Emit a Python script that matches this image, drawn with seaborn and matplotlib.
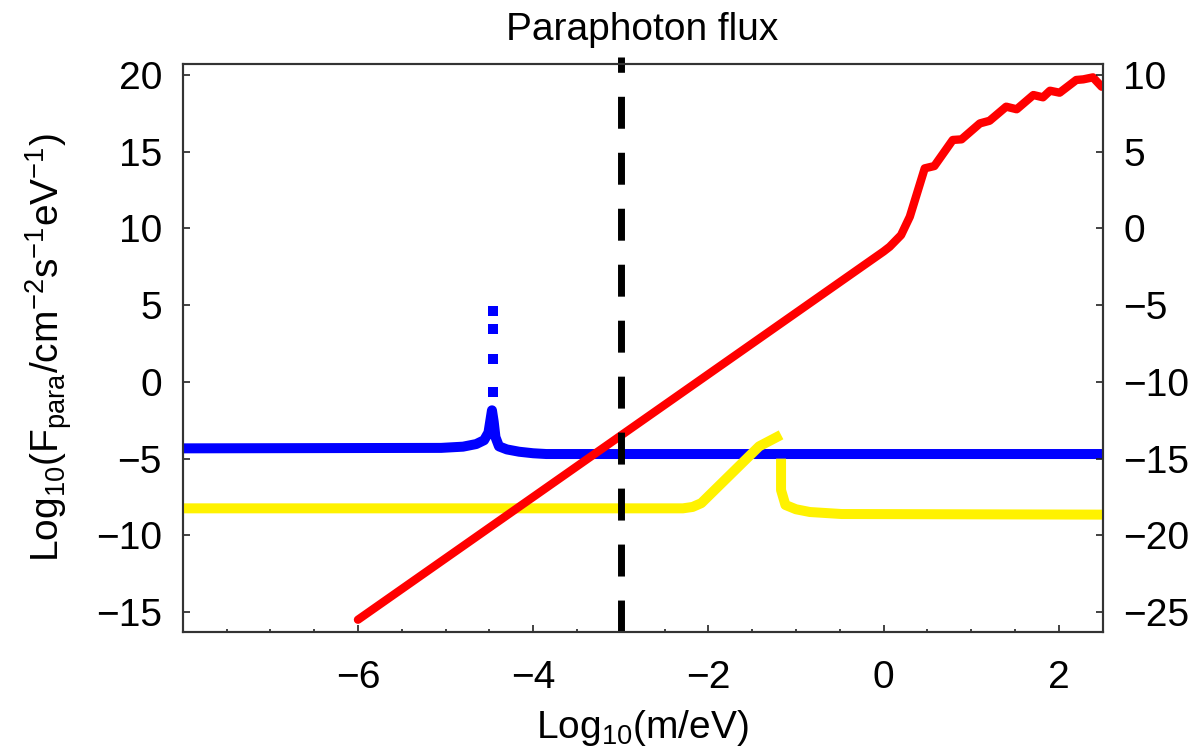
import numpy as np
import pandas as pd
import matplotlib
matplotlib.use("Agg")
import matplotlib.pyplot as plt
import seaborn as sns

# --- curve samples (log10 m/eV  vs  log10 flux) ---
red_x = [-6.0, 0.0, 0.07, 0.20, 0.30, 0.47, 0.58, 0.79, 0.89, 1.10, 1.21,
         1.40, 1.52, 1.71, 1.82, 1.90, 2.01, 2.20, 2.28, 2.39, 2.49]
red_y = [-15.5, 8.5, 8.81, 9.57, 10.77, 13.92, 14.07, 15.77, 15.81, 16.85, 17.02,
         17.94, 17.77, 18.70, 18.55, 18.98, 18.85, 19.68, 19.72, 19.85, 19.24]

blue_x = [-8.0, -5.05, -4.80, -4.65, -4.56, -4.51, -4.47, -4.45, -4.43,
          -4.39, -4.30, -4.16, -4.00, -3.85, 2.5]
blue_y = [-4.33, -4.30, -4.22, -4.05, -3.80, -3.30, -1.85, -2.60, -3.60,
          -4.20, -4.40, -4.55, -4.65, -4.70, -4.70]
blue_peak_x = [-4.46, -4.46, -4.46, -4.46]
blue_peak_y = [-0.64, 1.47, 3.43, 4.65]

yellow_rise_x = [-8.0, -2.29, -2.18, -2.08, -1.42, -1.17]
yellow_rise_y = [-8.24, -8.24, -8.15, -7.90, -4.20, -3.45]
yellow_fall_x = [-1.17, -1.17, -1.12, -1.00, -0.84, -0.48, 2.5]
yellow_fall_y = [-5.0, -7.05, -8.02, -8.30, -8.48, -8.61, -8.65]

cut_x = -3.0

x_ticks = [-6, -4, -2, 0, 2]
y_ticks_left = [20, 15, 10, 5, 0, -5, -10, -15]
y_ticks_right = [10, 5, 0, -5, -10, -15, -20, -25]
right_offset = -10

x_lim = (-8.0, 2.5)
y_lim = (-16.3, 20.72)

sns.set_theme(style="ticks")
plt.rcParams["font.family"] = ["Liberation Sans", "DejaVu Sans"]
plt.rcParams["mathtext.fontset"] = "custom"
plt.rcParams["mathtext.rm"] = "Liberation Sans"
plt.rcParams["mathtext.it"] = "Liberation Sans:italic"
plt.rcParams["mathtext.sf"] = "Liberation Sans"
plt.rcParams["text.color"] = "black"
plt.rcParams["axes.labelcolor"] = "black"

FS = 28
fig = plt.figure(figsize=(12.03, 7.54), dpi=100)
ax = fig.add_axes([0.1519, 0.1618, 0.9165 - 0.1519, 0.9151 - 0.1618])

blue_df = pd.DataFrame({"x": blue_x, "y": blue_y})
sns.lineplot(data=blue_df, x="x", y="y", ax=ax, color="#0000ff", lw=7.2,
             estimator=None, sort=False, solid_capstyle="butt", zorder=2)
sns.scatterplot(x=blue_peak_x, y=blue_peak_y, ax=ax, color="#0000ff", marker="s",
                s=52, linewidth=0, zorder=2)

for xs, ys in [(yellow_rise_x, yellow_rise_y), (yellow_fall_x, yellow_fall_y)]:
    sns.lineplot(x=xs, y=ys, ax=ax, color="#fff200", lw=7.2, estimator=None,
                 sort=False, solid_capstyle="butt", zorder=3)

sns.lineplot(x=red_x, y=red_y, ax=ax, color="#ff0000", lw=6.0, estimator=None,
             sort=False, solid_capstyle="round", solid_joinstyle="round", zorder=4)

# vertical dashed marker, drawn from the bottom edge upward
ax.plot([cut_x, cut_x], [y_lim[0], 21.2], color="black", lw=5.0,
        dashes=(4.6, 3.46), dash_capstyle="butt", zorder=5, clip_on=False)

ax.set_xlim(*x_lim)
ax.set_ylim(*y_lim)
ax.set_xticks(x_ticks)
ax.set_xticks(np.arange(-7.5, 2.51, 0.5), minor=True)
ax.set_yticks(y_ticks_left)
ax.set_xticklabels([f"{t}".replace("-", "\u2212") for t in x_ticks])
ax.set_yticklabels([f"{t}".replace("-", "\u2212") for t in y_ticks_left])

ax.tick_params(axis="x", which="major", direction="in", length=5, width=1.2,
               labelsize=FS, pad=20, colors="#222222", labelcolor="black")
ax.tick_params(axis="x", which="minor", direction="in", length=2.5, width=1.2,
               colors="#222222")
ax.tick_params(axis="y", which="major", direction="in", length=5, width=1.2,
               labelsize=FS, pad=15, colors="#222222", labelcolor="black")

for sp in ax.spines.values():
    sp.set_linewidth(1.5)
    sp.set_color("#333333")
    sp.set_visible(True)

ax2 = ax.twinx()
ax2.set_ylim(y_lim[0] + right_offset, y_lim[1] + right_offset)
ax2.set_yticks(y_ticks_right)
ax2.set_yticklabels([f"{t}".replace("-", "\u2212") for t in y_ticks_right])
ax2.tick_params(axis="y", which="major", direction="in", length=5, width=1.2,
                labelsize=FS, pad=15, colors="#222222", labelcolor="black")
for sp in ax2.spines.values():
    sp.set_linewidth(1.5)
    sp.set_color("#333333")

ax.set_xlabel(r"Log$_{10}$(m/eV)", fontsize=FS, labelpad=9, color="black")
ax.set_ylabel(r"Log$_{10}$(F$_{\mathrm{para}}$/cm$^{-2}$s$^{-1}$eV$^{-1}$)",
              fontsize=FS, labelpad=16, color="black")
ax.set_title("Paraphoton flux", fontsize=FS, pad=17, color="black")

fig.savefig("out.png", dpi=100)
